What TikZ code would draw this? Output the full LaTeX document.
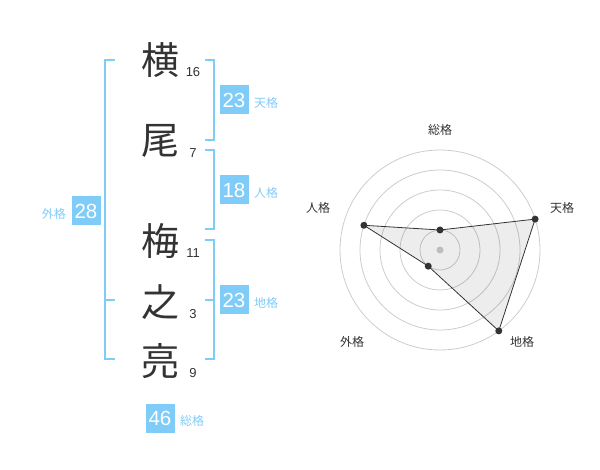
\documentclass[tikz,border=0pt]{standalone}
\usepackage{fontspec}
\setmainfont{Liberation Sans}
\newfontfamily\jp{Noto Sans CJK JP}
\definecolor{kaku}{RGB}{128,204,248}
\definecolor{ink}{RGB}{51,51,51}
\begin{document}
\begin{tikzpicture}[x=1pt,y=-1pt,
  kanji/.style={text=ink,font=\jp\fontsize{38}{40}\selectfont,inner sep=0pt},
  strokes/.style={text=ink,font=\fontsize{13}{14}\selectfont,inner sep=0pt},
  score/.style={fill=kaku,text=white,font=\fontsize{20.5}{21}\selectfont,
    minimum width=29pt,minimum height=29pt,inner sep=0pt},
  kakuname/.style={text=kaku,font=\jp\fontsize{12}{13}\selectfont,inner sep=0pt},
  radarname/.style={text=ink,font=\jp\fontsize{12}{13}\selectfont,inner sep=0pt},
  brace/.style={draw=kaku,line width=2pt}]
\useasboundingbox (0,0) rectangle (600,470);

% name and strokes
\foreach \n/\c/\y/\s in {a/横/60/16,b/尾/141/7,c/梅/241/11,d/之/302/3,e/亮/361/9}
{
    \node[kanji] (k\n) at (160,\y) {\c};
    \node[strokes] (s\n) at (193,\y+12) {\s};
}

% brackets
\draw[brace] (115,60) -- (105,60) -- (105,359) -- (115,359);
\draw[brace] (105,300) -- (115,300);
\draw[brace] (205,60) -- (214,60) -- (214,140) -- (205,140);
\draw[brace] (205,150) -- (214,150) -- (214,229) -- (205,229);
\draw[brace] (205,240) -- (214,240) -- (214,359) -- (205,359);
\draw[brace] (205,300) -- (214,300);

% scores
\node[score] (ten) at (234,100) {23};
\node[kakuname,anchor=west] (tenname) at (254,103) {天格};
\node[score] (jin) at (234,190) {18};
\node[kakuname,anchor=west] (jinname) at (254,193) {人格};
\node[score] (chi) at (234,300) {23};
\node[kakuname,anchor=west] (chiname) at (254,303) {地格};
\node[score] (gai) at (86,211) {28};
\node[kakuname,anchor=east] (gainame) at (66,214) {外格};
\node[score] (sou) at (160,418) {46};
\node[kakuname,anchor=west] (souname) at (180,421) {総格};

% radar
\begin{scope}[shift={(440,250)},y=1pt]
\foreach \r in {20,40,...,100}
    \draw[gray!40,line width=0.8pt] (0,0) circle (\r);
\fill[gray!40] (0,0) circle (3.5);
\draw[ink,line width=0.8pt,fill=black,fill opacity=0.07]
    (90:20) -- (18:100) -- (-54:100) -- (-126:20) -- (162:80) -- cycle;
\foreach \a/\r in {90/20,18/100,-54/100,-126/20,162/80}
    \fill[ink] (\a:\r) circle (3.5);
\node[radarname] (rsou) at (0,120) {総格};
\node[radarname] (rten) at (122,42) {天格};
\node[radarname] (rchi) at (82,-92) {地格};
\node[radarname] (rgai) at (-88,-92) {外格};
\node[radarname] (rjin) at (-122,42) {人格};
\end{scope}

\end{tikzpicture}
\end{document}
